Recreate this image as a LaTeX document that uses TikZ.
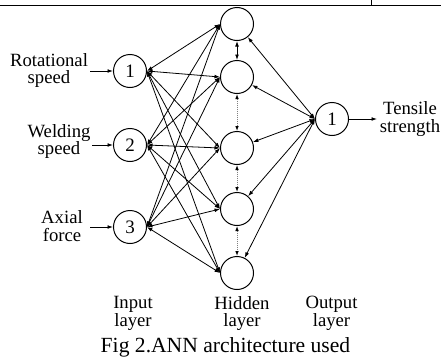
\documentclass[tikz,border=0pt]{standalone}
\usepackage{fontspec}
\setmainfont{Liberation Serif}
\usetikzlibrary{arrows.meta}
\begin{document}
\begin{tikzpicture}[x=1pt,y=-1pt,
  neuron/.style={circle,draw,line width=1pt,minimum size=33pt,inner sep=0pt,
    font=\fontsize{19}{17.5}\selectfont},
  lbl/.style={align=center,inner sep=0pt,font=\fontsize{18.7}{17.5}\selectfont},
  conn/.style={{Latex[length=5.5pt,width=3.8pt]}-{Latex[length=5.5pt,width=3.8pt]},line width=0.8pt},
  feed/.style={-{Latex[length=5.5pt,width=3.8pt]},line width=0.8pt},
  dotconn/.style={{Latex[length=5pt,width=3.6pt,black]}-{Latex[length=5pt,width=3.6pt,black]},
    draw=black!50,line width=0.9pt,dash pattern=on 1pt off 1pt}]
\useasboundingbox (0,0) rectangle (441,356);

% rule of the table above
\draw[line width=1pt] (0,5) -- (441,5);
\draw[line width=1pt] (371,0) -- (371,5);

% input layer
\node[neuron] (i1) at (130,71) {1};
\node[neuron] (i2) at (130,145) {2};
\node[neuron] (i3) at (130,227) {3};

% hidden layer
\node[neuron] (h1) at (237,24) {};
\node[neuron] (h2) at (237,77) {};
\node[neuron] (h3) at (237,148) {};
\node[neuron] (h4) at (237,209) {};
\node[neuron] (h5) at (237,273) {};

% output layer
\node[neuron] (o1) at (332,119) {1};

% input labels and their arrows
\node[lbl] (l1) at (49,70.5) {Rotational\\speed};
\node[lbl] (l2) at (59,141.5) {Welding\\speed};
\node[lbl] (l3) at (62,226) {Axial\\force};
\coordinate (s1) at (90,71);
\coordinate (s2) at (92,145);
\coordinate (s3) at (90,227);
\draw[feed] (s1) -- (i1);
\draw[feed] (s2) -- (i2);
\draw[feed] (s3) -- (i3);

% input -- hidden connections
\foreach \i in {1,2,3}
  \foreach \j in {1,...,5}
    \draw[conn] (i\i.east) -- (h\j.west);

% hidden -- output connections
\foreach \j in {1,...,5}
  \draw[conn] (h\j) -- (o1.west);

% links inside the hidden layer
\draw[conn] (h1) -- (h2);
\draw[dotconn] (h2) -- (h3);
\draw[dotconn] (h3) -- (h4);
\draw[dotconn] (h4) -- (h5);

% output arrow and label
\coordinate (t1) at (377,119);
\draw[feed] (o1) -- (t1);
\node[lbl] (lt) at (410,119) {Tensile\\strength};

% layer names
\node[lbl] (ln1) at (133,313.5) {Input\\layer};
\node[lbl] (ln2) at (242,313.5) {Hidden\\layer};
\node[lbl] (ln3) at (331.5,313.5) {Output\\layer};

% caption
\node[anchor=base,inner sep=0pt,font=\fontsize{21.6}{24}\selectfont] (cap) at (225.5,352)
  {Fig 2.ANN architecture used};
\end{tikzpicture}
\end{document}
